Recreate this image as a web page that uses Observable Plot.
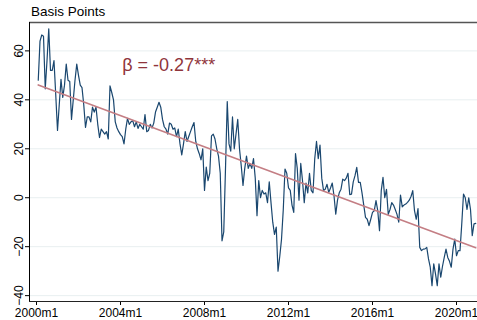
<!DOCTYPE html>
<html><head><meta charset="utf-8">
<script src="https://cdn.jsdelivr.net/npm/d3@7"></script>
<script src="https://cdn.jsdelivr.net/npm/@observablehq/plot@0.6"></script>
<style>
body{margin:0;background:#fff;}
#title{height:20px;font:13.5px "Liberation Sans",Arial,sans-serif;padding-left:31px;line-height:24px;color:#000;white-space:nowrap;}
</style></head><body>
<div id="title">Basis Points</div>
<div id="chart"></div>
<script>
// Monthly series (basis points), Stata %tm index: 2000m1 = 480. Series starts 2000m2.
const startT = 481;
const s2000 = [48, 64, 66.5, 66, 44.5, 56, 69, 52, 52, 56, 42];
const s2001 = [27.5, 38, 48.4, 41, 46, 54.6, 48, 47.5, 32, 40, 48, 54.6];
const s2002 = [50, 46, 45, 38, 28.7, 33, 33, 31, 37, 35, 37, 30];
const s2003 = [24.6, 28, 27, 26, 27, 24, 45.7, 43, 40, 31, 28.5, 27];
const s2004 = [25.8, 25, 22, 28, 32.4, 30, 31, 31.5, 29, 31, 28.3, 30];
const s2005 = [29, 28, 34, 27, 27.5, 30, 28.5, 30.5, 35, 37, 39, 37];
const s2006 = [32, 29, 28, 26, 30.5, 30, 28, 28.5, 25, 28, 22, 17.5];
const s2007 = [22, 27, 23, 25, 27, 29, 30.7, 23, 20, 18, 15.5, 20];
const s2008 = [3, 12.5, 7, 10, 25.3, 26, 24, 20, 17, 10, -17.6, -14];
const s2009 = [12, 39.3, 22, 19, 33, 20, 26, 32, 20, 13, 5, 12];
const s2010 = [17, 12, 14, 12, 16, 8, -7.3, 7, 0, 3, 1.5, 2];
const s2011 = [-2, 6.5, -2, -10, -15, -12, -30, -24, -17, -5, 11.7, 10];
const s2012 = [4, 3, -3, -6, 18, 12, -1, 14, 7, -2, 6, 2];
const s2013 = [10, 3, 2, 16, 23, 16, 21.5, 8, 3, 3.5, 5.5, 2.2];
const s2014 = [4, 6, 0.8, -6.7, -1, 2, 3.5, 7.6, 7, 8, 10, 1.3];
const s2015 = [1.5, 6.5, 9, 12.4, 6.3, 6.3, 2, -3, -8, -8.8, -11.4, -8.8];
const s2016 = [-6, -5.3, -1.2, -5.3, -13.5, 2.9, 8.3, 0, 3.4, -6.8, -4.8, -2];
const s2017 = [-3, -4.8, -6.8, -10, 1.1, -3.7, -3, -2.6, -1.9, -1, 0.5, 2.9];
const s2018 = [-5.3, -8.8, -4.4, -20.3, -21.6, -21, -20.9, -20.3, -25, -28.4, -35.9, -27];
const s2019 = [-31.1, -35.9, -27, -32.5, -28, -24.4, -21, -24.4, -26, -28.4, -21, -16.9];
const s2020 = [-23.7, -21.6, -21.6, -10.7, 1.5, 0, -4.8, 0, -4.8, -15.5, -10.7, -10.5];

// Fitted trend endpoints
const fitT = [481, 731];
const fitV = [46.1, -20.4];

// Annotation
const annotLabel = ["β = -0.27***"];
const annotT = [529];
const annotV = [54];

// Axes
const xDomain = [476, 732];
const yDomain = [-42.4, 71.6];
const xTicks = [480, 528, 576, 624, 672, 720];
const xTickLabels = ["2000m1", "2004m1", "2008m1", "2012m1", "2016m1", "2020m1"];
const yTicks = [-40, -20, 0, 20, 40, 60];

const values = [].concat(s2000, s2001, s2002, s2003, s2004, s2005, s2006, s2007, s2008, s2009,
  s2010, s2011, s2012, s2013, s2014, s2015, s2016, s2017, s2018, s2019, s2020);
const series = values.map((v, i) => ({t: startT + i, v}));
const fit = fitT.map((t, i) => ({t, v: fitV[i]}));
const annot = annotLabel.map((label, i) => ({label, t: annotT[i], v: annotV[i]}));

const font = '"Liberation Sans", Arial, sans-serif';
const chart = Plot.plot({
  width: 477, height: 300,
  marginLeft: 29, marginRight: 0, marginTop: 2, marginBottom: 19,
  style: {fontFamily: font, fontSize: "12px", color: "#000", background: "#fff", overflow: "visible"},
  x: {type: "linear", domain: xDomain},
  y: {type: "linear", domain: yDomain},
  marks: [
    Plot.gridY(yTicks, {stroke: "#e8eff0", strokeOpacity: 1, strokeWidth: 1}),
    Plot.axisY(yTicks, {tickSize: 4, tickRotate: -90, tickPadding: 3, label: null, fontSize: 12, stroke: "#000"}),
    Plot.axisX(xTicks, {tickSize: 4, tickPadding: 3, label: null, fontSize: 12, stroke: "#000",
      tickFormat: d => xTickLabels[xTicks.indexOf(d)]}),
    Plot.ruleY([yDomain[1]], {stroke: "#555", strokeWidth: 1.5}),
    Plot.ruleY([yDomain[0]], {stroke: "#222", strokeWidth: 1.2}),
    Plot.ruleX([xDomain[0]], {stroke: "#000", strokeWidth: 1}),
    Plot.line(series, {x: "t", y: "v", stroke: "#1a476f", strokeWidth: 1.2}),
    Plot.line(fit, {x: "t", y: "v", stroke: "#c47e84", strokeWidth: 1.6}),
    Plot.text(annot, {x: "t", y: "v", text: "label", fill: "#90353b", fontSize: 18, textAnchor: "start"})
  ]
});
document.getElementById("chart").appendChild(chart);
</script></body></html>
